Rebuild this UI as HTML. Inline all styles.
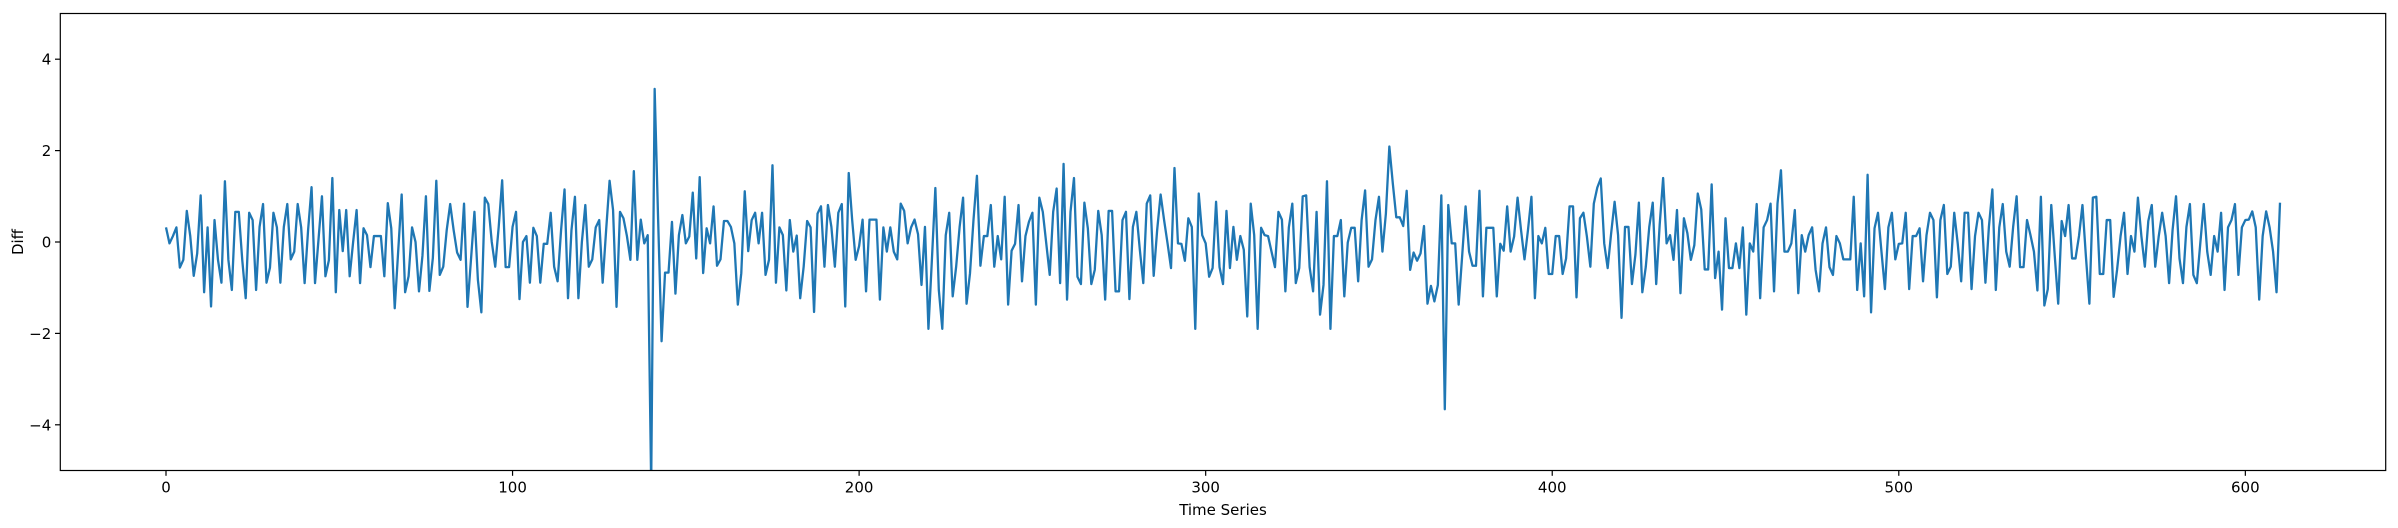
<!DOCTYPE html>
<html><head><meta charset="utf-8"><style>
html,body{margin:0;padding:0;background:#fff;}
svg{display:block;font-family:"DejaVu Sans","Liberation Sans",sans-serif;}
</style></head><body>
<svg id="chart" width="2398" height="528" viewBox="0 0 2398 528" xmlns="http://www.w3.org/2000/svg">
<defs><clipPath id="plotclip"><rect x="60.3" y="13.5" width="2325.4" height="457"/></clipPath></defs>
<rect x="60.3" y="13.5" width="2325.4" height="457" fill="#fff"/>
<g id="series" clip-path="url(#plotclip)"></g>
<g id="axes"></g>
<text x="1223" y="515" font-size="15" text-anchor="middle">Time Series</text>
<text x="0" y="0" font-size="15" text-anchor="middle" transform="translate(23,242) rotate(-90)">Diff</text>
</svg>
<script>
const diffValues = [
0.32,-0.03,0.13,0.32,-0.56,-0.39,0.68,0.13,-0.74,-0.25,1.02,-1.1,0.32,-1.41,0.48,-0.39,-0.89,1.33,-0.39,-1.05,0.66,0.66,-0.39,-1.23,0.64,0.48,-1.05,0.33,0.83,-0.89,-0.56,0.64,0.32,-0.89,0.33,0.83,-0.38,-0.21,0.83,0.32,-0.9,0.26,
1.2,-0.9,0.05,1.0,-0.75,-0.4,1.4,-1.1,0.7,-0.2,0.7,-0.75,0,0.7,-0.9,0.3,0.15,-0.55,0.13,0.13,0.13,-0.75,0.85,0.3,-1.45,
-0.2,1.04,
-1.1,-0.75,0.32,0,-1.08,-0.3,1.0,-1.07,-0.35,1.34,-0.72,-0.54,0.26,0.83,0.26,-0.23,-0.39,0.84,-1.42,-0.39,0.66,-0.83,-1.54,0.97,0.83,0,-0.54,0.33,1.35,-0.55,-0.55,0.33,0.66,-1.25,0,0.13,-0.89,0.31,0.13,-0.89,-0.04,-0.04,0.64,-0.54,-0.86,0.26,1.15,-1.23,0.26,0.99,-1.23,0,0.81,-0.54,-0.38,0.32,0.48,-0.89,0.26,1.34,0.7,-1.42,0.66,0.52,0.13,-0.39,1.55,
-0.39,0.49,-0.03,0.15,-5.3,3.35,0.5,-2.17,
-0.67,-0.67,0.44,-1.13,0.15,0.59,-0.03,0.12,1.08,-0.36,1.42,-0.68,0.3,-0.03,0.78,-0.52,-0.38,0.46,0.46,0.33,-0.03,-1.37,-0.68,1.11,-0.2,0.48,0.64,-0.03,0.64,-0.72,-0.39,1.68,-0.89,0.32,0.15,-1.06,0.48,-0.21,0.14,-1.23,-0.54,0.46,0.32,-1.53,0.62,0.78,-0.54,0.81,0.33,-0.54,0.64,0.83,-1.41,1.51,0.48,-0.39,-0.09,0.49,-1.08,0.49,
0.49,0.49,-1.26,0.32,-0.21,0.32,-0.21,-0.38,0.84,0.68,-0.03,0.32,0.49,0.17,-0.94,0.33,-1.9,-0.39,1.18,-1.05,-1.9,0.15,0.64,-1.19,-0.54,0.33,0.97,-1.35,-0.68,0.48,1.45,-0.52,0.13,0.13,0.81,-0.54,0.13,-0.38,0.99,-1.37,-0.19,-0.04,0.81,-0.86,0.13,0.44,0.64,-1.37,0.97,0.66,-0.03,-0.72,0.66,1.17,-0.9,1.71,-1.26,0.66,1.4,-0.76,-0.92,0.86,0.3,-0.92,-0.61,0.68,0.15,-1.26,0.68,
0.68,-1.08,-1.08,0.48,0.66,-1.25,0.33,0.66,-0.17,-0.9,0.84,1.02,-0.74,0.26,1.04,0.48,-0.03,-0.57,1.62,-0.03,-0.04,-0.41,0.52,0.33,-1.9,1.06,0.15,-0.03,-0.76,-0.57,0.88,-0.55,-0.92,0.68,-0.57,0.33,-0.39,0.13,-0.17,-1.63,0.84,0.15,-1.9,0.31,0.15,0.13,-0.21,-0.55,0.66,0.49,-1.08,0.32,0.84,-0.9,-0.57,1.0,1.02,-0.55,-1.08,0.66,-1.59,-0.94,1.33,-1.9,0.13,0.13,0.48,-1.19,
-0.01,0.31,0.31,-0.86,0.48,1.13,-0.54,-0.38,0.48,0.99,-0.21,0.62,2.09,1.28,0.54,0.54,0.35,1.12,-0.61,-0.23,-0.41,-0.25,0.35,-1.35,-0.96,-1.3,-0.94,1.02,-3.66,0.81,-0.03,-0.03,-1.37,-0.32,0.78,-0.21,-0.52,-0.52,1.12,-1.19,0.31,0.31,0.31,-1.19,-0.04,-0.19,0.78,-0.21,0.12,0.97,0.26,-0.38,0.26,0.99,-1.23,0.13,-0.03,0.31,-0.7,-0.7,0.13,0.13,-0.7,-0.36,0.78,0.78,-1.21,0.52,
0.64,0.12,-0.54,0.84,1.19,1.39,-0.03,-0.57,0.19,0.88,0.15,-1.66,0.33,0.33,-0.92,-0.28,0.86,-1.1,-0.54,0.33,0.86,-0.92,0.37,1.4,-0.03,0.15,-0.39,0.7,-1.12,0.52,0.19,-0.39,-0.07,1.06,0.71,-0.6,-0.6,1.26,-0.79,-0.21,-1.48,0.52,-0.57,-0.57,-0.03,-0.57,0.32,-1.59,-0.03,-0.21,0.83,-1.23,0.32,0.48,0.84,-1.08,0.84,1.57,-0.21,-0.21,-0.03,0.7,-1.12,0.15,-0.21,0.15,0.32,-0.61,
-1.08,-0.03,0.32,-0.55,-0.72,0.13,-0.03,-0.38,-0.38,-0.38,0.99,-1.05,-0.03,-1.19,1.47,-1.54,0.3,0.64,-0.21,-1.03,0.32,0.64,-0.38,-0.04,-0.03,0.64,-1.03,0.13,0.13,0.3,-0.86,0.15,0.64,0.48,-1.21,0.48,0.81,-0.7,-0.54,0.64,-0.03,-0.86,0.64,0.64,-1.03,0.13,0.64,0.48,-0.89,0.33,1.15,-1.05,0.32,0.83,-0.21,-0.54,0.33,1.0,-0.55,-0.55,0.48,0.15,-0.21,-1.06,0.99,-1.39,-1.03,0.81,
-0.3,-1.35,0.46,0.13,0.81,-0.36,-0.36,0.13,0.81,-0.32,-1.35,0.97,0.99,-0.7,-0.7,0.48,0.48,-1.2,-0.6,0.13,0.64,-0.7,0.13,-0.21,0.97,0.13,-0.54,0.46,0.81,-0.54,0.12,0.64,0.13,-0.9,0.26,1.0,-0.36,-0.9,0.33,0.83,-0.72,-0.9,-0.03,0.83,-0.21,-0.72,0.13,-0.21,0.64,-1.05,0.32,0.48,0.83,-0.72,0.32,0.48,0.49,0.67,0.32,-1.26,0.13,0.67,0.32,-0.21,-1.1,0.86
];
const xTicks = [0,100,200,300,400,500,600];
const yTicks = [-4,-2,0,2,4];
const yTickLabels = ["\u22124","\u22122","0","2","4"];

const NS="http://www.w3.org/2000/svg";
const L=60.3,R=2385.7,T=13.5,B=470.5;
const n=diffValues.length;
const pad=(n-1)*0.05;
const xMin=-pad,xMax=(n-1)+pad,yMin=-5,yMax=5;
function xs(v){return L+(v-xMin)/(xMax-xMin)*(R-L);}
function ys(v){return B-(v-yMin)/(yMax-yMin)*(B-T);}

const series=document.getElementById('series');
const line=document.createElementNS(NS,'polyline');


line.setAttribute('points',diffValues.map((v,i)=>xs(i).toFixed(2)+','+ys(v).toFixed(2)).join(' '));
line.setAttribute('fill','none');
line.setAttribute('stroke','#1f77b4');
line.setAttribute('stroke-width','2.3');
line.setAttribute('stroke-linejoin','round');
series.appendChild(line);

const axes=document.getElementById('axes');
const frame=document.createElementNS(NS,'rect');


frame.setAttribute('x',L);frame.setAttribute('y',T);
frame.setAttribute('width',R-L);frame.setAttribute('height',B-T);
frame.setAttribute('fill','none');frame.setAttribute('stroke','#000');frame.setAttribute('stroke-width','1.2');
axes.appendChild(frame);

xTicks.forEach(t=>{
  const x=xs(t);
  const tk=document.createElementNS(NS,'line');
  
  
  tk.setAttribute('x1',x);tk.setAttribute('x2',x);tk.setAttribute('y1',B);tk.setAttribute('y2',B+5.3);
  tk.setAttribute('stroke','#000');tk.setAttribute('stroke-width','1.2');
  axes.appendChild(tk);
  const lb=document.createElementNS(NS,'text');
  
  
  lb.setAttribute('x',x);lb.setAttribute('y',B+22);
  lb.setAttribute('font-size','15');lb.setAttribute('text-anchor','middle');
  lb.textContent=String(t);
  axes.appendChild(lb);
});
yTicks.forEach((t,i)=>{
  const y=ys(t);
  const tk=document.createElementNS(NS,'line');
  
  
  tk.setAttribute('x1',L-5.3);tk.setAttribute('x2',L);tk.setAttribute('y1',y);tk.setAttribute('y2',y);
  tk.setAttribute('stroke','#000');tk.setAttribute('stroke-width','1.2');
  axes.appendChild(tk);
  const lb=document.createElementNS(NS,'text');
  
  
  lb.setAttribute('x',L-9);lb.setAttribute('y',y+5.5);
  lb.setAttribute('font-size','15');lb.setAttribute('text-anchor','end');
  lb.textContent=yTickLabels[i];
  axes.appendChild(lb);
});
</script>
</body></html>
